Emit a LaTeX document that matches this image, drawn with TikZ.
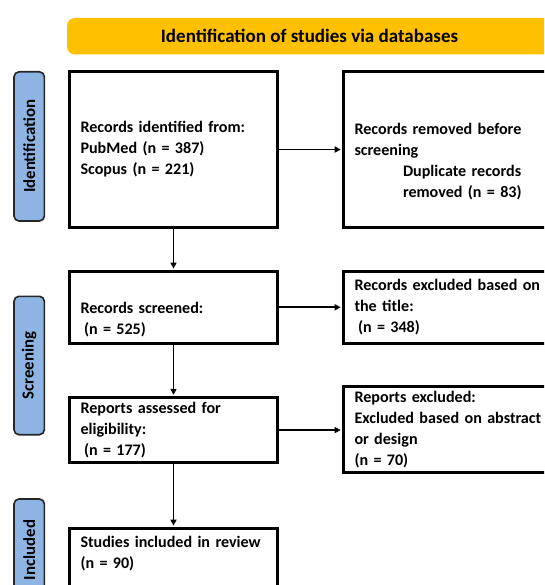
\documentclass[tikz,border=0pt]{standalone}
\usepackage{fontspec}
\setmainfont{Carlito}
\usetikzlibrary{arrows.meta,positioning}
\definecolor{bannergold}{RGB}{255,192,0}
\definecolor{stageblue}{RGB}{142,180,227}

\begin{document}
\begin{tikzpicture}[x=1pt, y=-1pt, font=\fontsize{16.1}{21}\selectfont\bfseries,
    box/.style={rectangle, draw, line width=3pt, align=left, inner xsep=11pt, inner ysep=0pt},
    leftbox/.style={box, text width=186pt, minimum width=208.2pt},
    rightbox/.style={box, text width=200pt, minimum width=222pt},
    stage/.style={rectangle, rounded corners=5pt, draw=black!85, line width=1.6pt, fill=stageblue, rotate=90, minimum height=30.4pt, inner sep=0pt, font=\fontsize{16.8}{20}\selectfont\bfseries},
    flow/.style={-{Triangle[length=6pt,width=6pt]}, line width=1.9pt, shorten >=1.3pt}]
  \useasboundingbox (0,0) rectangle (544,585);
  \clip (0,0) rectangle (544,585);

  \node[rectangle, rounded corners=8pt, fill=bannergold, minimum width=485pt, minimum height=36.5pt, font=\fontsize{19}{23}\selectfont\bfseries] (banner) at (309.5,36.25) {Identification of studies via databases};

  \node[stage, minimum width=149.2pt] (idlab) at (29.2,146.4) {Identification};
  \node[stage, minimum width=138.4pt] (scrlab) at (29.2,365.5) {Screening};
  \node[stage, minimum width=102pt] (inclab) at (29.2,550) {Included};

  \node[leftbox, minimum height=155.5pt] (ident) at (173.5,149.55) {Records identified from:\\PubMed (n = 387)\\Scopus (n = 221)};
  \node[rightbox, minimum height=155.5pt] (removed) at (454.5,149.55) {\strut\\Records removed before\\screening\\\hspace*{48.5pt}Duplicate records\\\hspace*{48.5pt}removed (n = 83)};
  \node[leftbox, minimum height=71.8pt] (screened) at (173.5,307.3) {\strut\\Records screened:\\\hspace*{3.5pt}(n = 525)};
  \node[rightbox, minimum height=71.8pt] (titleout) at (454.5,307.3) {Records excluded based on\\the title:\\\hspace*{3.5pt}(n = 348)};
  \node[leftbox, minimum height=64.9pt] (assessed) at (173.5,430.05) {Reports assessed for\\eligibility:\\\hspace*{3.5pt}(n = 177)};
  \node[rightbox, minimum height=85.7pt] (reportout) at (454.5,429.35) {Reports excluded:\\Excluded based on abstract\\or design\\(n = 70)};
  \node[leftbox, minimum height=69.2pt] (included) at (173.5,563) {Studies included in review\\(n = 90)\\\mbox{}};

  \draw[flow] (ident) -- (removed);
  \draw[flow] (ident) -- (screened);
  \draw[flow] (screened) -- (titleout);
  \draw[flow] (screened) -- (assessed);
  \draw[flow] (assessed.east) -- (assessed.east -| reportout.west);
  \draw[flow] (assessed) -- (included);
\end{tikzpicture}
\end{document}
